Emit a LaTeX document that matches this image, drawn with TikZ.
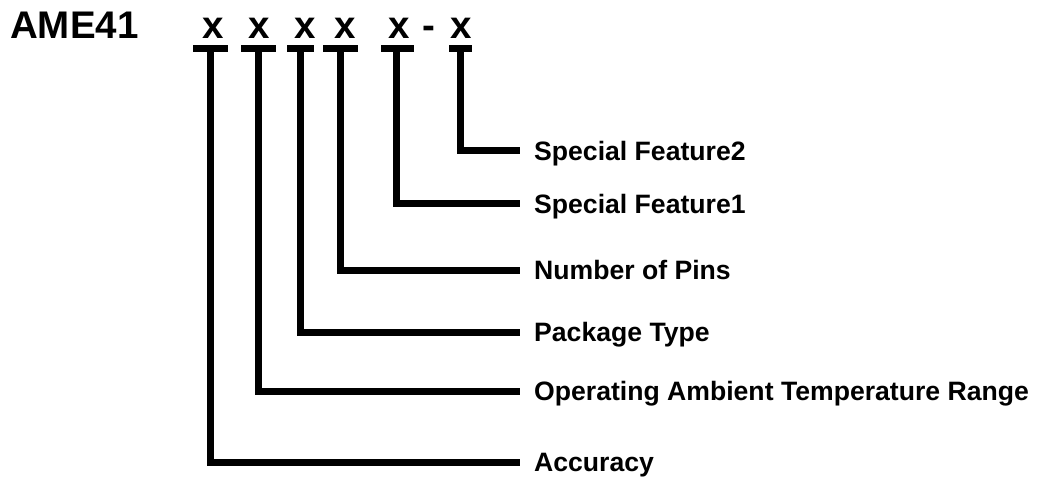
\documentclass[tikz,border=0pt]{standalone}
\usepackage{fontspec}
\setmainfont{Liberation Sans}
\begin{document}
\begin{tikzpicture}[x=1pt,y=-1pt,
  big/.style={font=\fontsize{38.5}{38.5}\selectfont\bfseries, inner sep=0pt, anchor=base},
  lab/.style={font=\fontsize{26.6}{26.6}\selectfont\bfseries, inner sep=0pt, anchor=base west},
  bar/.style={line width=7pt},
  lead/.style={line width=7pt, line join=miter}]
\useasboundingbox (0,0) rectangle (1040,479);
% part number
\node[big, anchor=base west] (ame) at (10,38) {AME41};
\node[big] (x1) at (213,38) {x};
\node[big] (x2) at (259,38) {x};
\node[big] (x3) at (305,38) {x};
\node[big] (x4) at (345,38) {x};
\node[big] (x5) at (399,38) {x};
\node[big] (dash) at (428.5,38) {-};
\node[big] (x6) at (461,38) {x};
% bars under letters
\draw[bar] (193,48.5) -- (228,48.5);
\draw[bar] (241,48.5) -- (276,48.5);
\draw[bar] (287,48.5) -- (314,48.5);
\draw[bar] (323,48.5) -- (358,48.5);
\draw[bar] (381,48.5) -- (414,48.5);
\draw[bar] (449,48.5) -- (472,48.5);
% stem tops
\coordinate (s1) at (210.5,48.5);
\coordinate (s2) at (258.5,48.5);
\coordinate (s3) at (300,48.5);
\coordinate (s4) at (340,48.5);
\coordinate (s5) at (396,48.5);
\coordinate (s6) at (460,48.5);
% line ends
\coordinate (e1) at (520,462);
\coordinate (e2) at (520,391);
\coordinate (e3) at (520,332);
\coordinate (e4) at (520,270);
\coordinate (e5) at (520,203.5);
\coordinate (e6) at (520,150.5);
% labels
\node[lab] (l1) at ([shift={(14,9.5)}]e1) {Accuracy};
\node[lab] (l2) at ([shift={(14,9.5)}]e2) {Operating Ambient Temperature Range};
\node[lab] (l3) at ([shift={(14,9.5)}]e3) {Package Type};
\node[lab] (l4) at ([shift={(14,9.5)}]e4) {Number of Pins};
\node[lab] (l5) at ([shift={(14,9.5)}]e5) {Special Feature1};
\node[lab] (l6) at ([shift={(14,9.5)}]e6) {Special Feature2};
% leaders
\draw[lead] (s1) |- (e1);
\draw[lead] (s2) |- (e2);
\draw[lead] (s3) |- (e3);
\draw[lead] (s4) |- (e4);
\draw[lead] (s5) |- (e5);
\draw[lead] (s6) |- (e6);
\end{tikzpicture}
\end{document}
